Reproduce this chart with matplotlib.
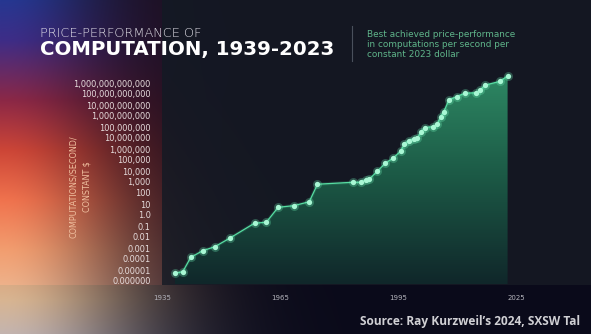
import numpy as np
import matplotlib
matplotlib.use('Agg')
import matplotlib.pyplot as plt
from matplotlib.patches import Polygon
from matplotlib.colors import LinearSegmentedColormap

# data (year, computations / second / constant 2023 $)
years = [1938.3, 1940.3, 1942.3, 1945.3, 1948.4, 1952.2, 1958.5, 1961.5, 1964.5, 1968.5,
         1972.4, 1974.5, 1983.6, 1985.5, 1986.7, 1987.7, 1989.7, 1991.7, 1993.6, 1995.6,
         1996.6, 1997.7, 1998.9, 1999.9, 2000.8, 2001.9, 2003.9, 2004.9, 2005.8, 2006.6,
         2007.9, 2009.9, 2012.0, 2014.7, 2015.8, 2017.0, 2020.8, 2022.8]
values = [5.0e-6, 7.2e-6, 1.4e-4, 5.6e-4, 1.3e-3, 7.8e-3, 0.18, 0.22, 5.0, 7.1,
          16, 630, 950, 950, 1500, 1900, 9500, 5.0e4, 1.4e5, 6.2e5,
          3.0e6, 5.9e6, 8.5e6, 1.0e7, 3.7e7, 8.9e7, 1.1e8, 1.8e8, 8.7e8, 2.5e9,
          3.0e10, 5.9e10, 1.2e11, 1.3e11, 2.2e11, 6.3e11, 1.4e12, 4.4e12]

ytick_vals = [1e12, 1e11, 1e10, 1e9, 1e8, 1e7, 1e6, 1e5, 1e4, 1e3, 1e2, 1e1, 1e0,
              1e-1, 1e-2, 1e-3, 1e-4, 1e-5, 1e-6]
ytick_labels = ['1,000,000,000,000', '100,000,000,000', '10,000,000,000', '1,000,000,000',
                '100,000,000', '10,000,000', '1,000,000', '100,000', '10,000', '1,000',
                '100', '10', '1.0', '0.1', '0.01', '0.001', '0.0001', '0.00001', '0.000000']
xtick_vals = [1935, 1965, 1995, 2025]

W, H = 591, 334

fig = plt.figure(figsize=(W / 100, H / 100), dpi=100)

# ---- background: dark panel with colourful glow on the left ----
xx, yy = np.meshgrid(np.arange(W), np.arange(H))
stops_y = [0, 40, 100, 150, 200, 250, 300, 334]
stops_c = np.array([(38, 55, 145), (62, 45, 135), (140, 40, 70), (205, 70, 55),
                    (240, 115, 78), (242, 158, 112), (236, 186, 150), (215, 185, 180)], float)
glow = np.stack([np.interp(yy, stops_y, stops_c[:, i]) for i in range(3)], axis=-1)
sx = 100 + 50 * (yy / H)
w = np.exp(-(xx / sx) ** 2)[..., None]
base_left = np.array([30, 15, 30], float)
left_img = base_left + (glow - base_left) * w
img = left_img.copy()
panel = (xx >= 162) & (yy < 285)
panel_col = np.array([18, 26, 36], float)
img[panel] = 0.8 * panel_col + 0.2 * left_img[panel]
bottom = yy >= 285
bot_col = np.array([10, 10, 26], float)
img[bottom] = bot_col + (left_img[bottom] - base_left)
img = np.clip(img, 0, 255) / 255.0

bg = fig.add_axes([0, 0, 1, 1], zorder=0)
bg.imshow(img, extent=[0, W, H, 0], aspect='auto')
bg.set_xlim(0, W)
bg.set_ylim(H, 0)
bg.axis('off')

# ---- main axes, placed in pixel terms ----
def yr_at(px):
    return 1935 + (px - 160.3) / 3.953

def exp_at(py):
    return 12 - (py - 83) / 11.0

left_px, right_px, top_px, bot_px = 162, 560, 65, 284
ax = fig.add_axes([left_px / W, 1 - bot_px / H, (right_px - left_px) / W, (bot_px - top_px) / H], zorder=1)
ax.patch.set_alpha(0)
ax.set_yscale('log')
x0, x1 = yr_at(left_px), yr_at(right_px)
y0, y1 = 10 ** exp_at(bot_px), 10 ** exp_at(top_px)
ax.set_xlim(x0, x1)
ax.set_ylim(y0, y1)

# gradient fill under the curve
verts = list(zip(years, values)) + [(years[-1], y0), (years[0], y0)]
clip = Polygon(verts, closed=True, facecolor='none', edgecolor='none', transform=ax.transData)
ax.add_patch(clip)
cmap = LinearSegmentedColormap.from_list('g', ['#10272a', '#1c5a46', '#2f8c66'])
grad = np.linspace(0, 1, 256).reshape(-1, 1)
im = ax.imshow(grad, extent=[0, 1, 0, 1], origin='lower', aspect='auto', cmap=cmap,
               transform=ax.transAxes, zorder=1)
im.set_clip_path(clip)

# line with glowing markers
ax.plot(years, values, color='#4fd69a', lw=2.4, alpha=0.15, zorder=2)
ax.plot(years, values, color='#57dca2', lw=0.9, zorder=3)
ax.plot(years, values, 'o', ms=6.5, color='#6ff0b8', alpha=0.28, mew=0, zorder=4)
ax.plot(years, values, 'o', ms=3.8, color='#a8f7d4', mew=0, zorder=5)

ax.set_yticks(ytick_vals)
ax.set_yticklabels(ytick_labels)
ax.yaxis.set_minor_locator(matplotlib.ticker.NullLocator())
ax.set_xticks(xtick_vals)
ax.set_xticklabels([str(v) for v in xtick_vals])
ax.tick_params(axis='y', length=0, pad=8.1, labelsize=5.9, labelcolor='#e8dede')
ax.tick_params(axis='x', length=0, pad=7.7, labelsize=5.0, labelcolor='#b4b4bc')
for s in ax.spines.values():
    s.set_visible(False)

# ---- texts ----
def fx(px):
    return px / W

def fy(py):
    return 1 - py / H

fig.text(fx(40), fy(33), 'PRICE-PERFORMANCE OF', fontsize=9.3, color='#e6e4ec',
         fontweight='light', ha='left', va='center')
fig.text(fx(40), fy(50), 'COMPUTATION, 1939-2023', fontsize=14.2, color='#ffffff',
         fontweight='bold', ha='left', va='center')
fig.add_artist(plt.Line2D([fx(351.7), fx(351.7)], [fy(26), fy(61)], color='#4a505c', lw=0.8))
fig.text(fx(367), fy(44.5), 'Best achieved price-performance\nin computations per second per\nconstant 2023 dollar',
         fontsize=6.4, color='#5fb58a', ha='left', va='center', linespacing=1.2)
fig.text(fx(80), fy(187), 'COMPUTATIONS/SECOND/\nCONSTANT $', fontsize=5.8, color='#f0c0a0',
         rotation=90, ha='center', va='center', multialignment='center', linespacing=1.6)
fig.text(fx(360), fy(322), 'Source: Ray Kurzweil\u2019s 2024, SXSW Tal', fontsize=8.6,
         color='#d0d0d4', fontweight='bold', family='Open Sans', ha='left', va='center')

fig.savefig('out.png', dpi=100)
